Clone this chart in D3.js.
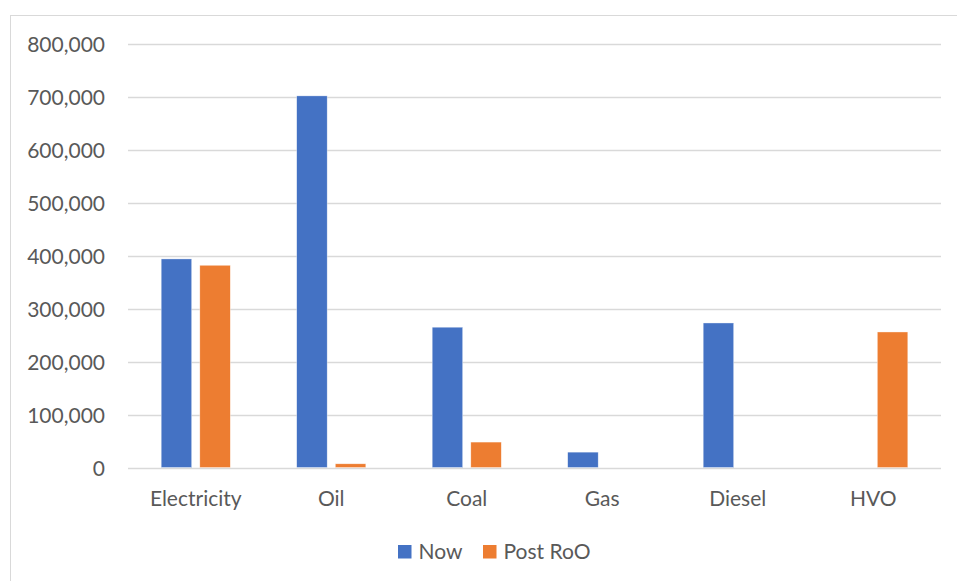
<!DOCTYPE html>
<html>
<head>
<meta charset="utf-8">
<script src="https://cdn.jsdelivr.net/npm/d3@7"></script>
<style>
  html, body { margin: 0; padding: 0; background: #fff; }
  svg { display: block; }
  text { font-family: Lato, "Open Sans", "Liberation Sans", sans-serif; fill: #595959; }
</style>
</head>
<body>
<svg id="chart" width="957" height="581"></svg>
<script>
// Energy use by fuel, now versus after the RoO change
const categories = ["Electricity", "Oil", "Coal", "Gas", "Diesel", "HVO"];
const nowValues = [394000, 702000, 265000, 29000, 273000, 0];
const postRoOValues = [382000, 7000, 48000, 0, 0, 256000];
const seriesNames = ["Now", "Post RoO"];
const seriesColors = ["#4472C4", "#ED7D31"];
const yTicks = [0, 100000, 200000, 300000, 400000, 500000, 600000, 700000, 800000];

const svg = d3.select("#chart");
const W = 957, H = 581;
const fontSize = 21;

// chart frame
svg.append("rect")
  .attr("x", 10.5).attr("y", 15.5)
  .attr("width", W + 10).attr("height", H + 10)
  .attr("fill", "#fff").attr("stroke", "#d9d9d9").attr("stroke-width", 1);

const plot = { left: 128, right: 941, top: 44, bottom: 467.5 };

const x = d3.scaleBand()
  .domain(categories)
  .range([plot.left, plot.right])
  .paddingInner(0).paddingOuter(0);

const bandW = x.bandwidth();
const barW = bandW * 0.225;
const gap = bandW * 0.06;

const y = d3.scaleLinear().domain([0, 800000]).range([plot.bottom, plot.top]);

// gridlines
svg.append("g")
  .selectAll("line")
  .data(yTicks)
  .join("line")
  .attr("x1", plot.left).attr("x2", plot.right)
  .attr("y1", d => Math.round(y(d)) + 0.5)
  .attr("y2", d => Math.round(y(d)) + 0.5)
  .attr("stroke", "#d9d9d9").attr("stroke-width", 1.3);

// y axis labels
const yAxis = d3.axisLeft(y)
  .tickValues(yTicks)
  .tickFormat(d3.format(","))
  .tickSize(0)
  .tickPadding(0);
const gy = svg.append("g")
  .attr("transform", `translate(${105},0)`)
  .call(yAxis);
gy.select(".domain").remove();
gy.selectAll("text")
  .attr("font-size", fontSize)
  .attr("dy", "0.36em")
  .style("font-family", null);

// bars
const series = [nowValues, postRoOValues];
series.forEach((vals, si) => {
  svg.append("g")
    .selectAll("rect")
    .data(categories.map((c, i) => ({ c, v: vals[i] })).filter(d => d.v > 0))
    .join("rect")
    .attr("x", d => x(d.c) + bandW / 2 + (si === 0 ? -gap / 2 - barW : gap / 2))
    .attr("width", barW)
    .attr("y", d => y(d.v))
    .attr("height", d => y(0) - y(d.v))
    .attr("fill", seriesColors[si])
    .attr("stroke", "#fff").attr("stroke-width", 0.6).attr("stroke-opacity", 0.6);
});

// x axis labels
const xAxis = d3.axisBottom(x).tickSize(0).tickPadding(0);
const gx = svg.append("g")
  .attr("transform", `translate(0,${plot.bottom})`)
  .call(xAxis);
gx.select(".domain").remove();
gx.selectAll("text")
  .attr("font-size", fontSize)
  .attr("y", 38)
  .attr("dy", 0)
  .style("font-family", null);

// legend
const legend = svg.append("g").attr("transform", "translate(398,545)");
const legendX = [0, 85];
seriesNames.forEach((name, i) => {
  const g = legend.append("g").attr("transform", `translate(${legendX[i]},0)`);
  g.append("rect").attr("width", 13.5).attr("height", 13.5).attr("fill", seriesColors[i]);
  g.append("text").attr("x", 20.5).attr("y", 14).attr("font-size", fontSize).text(name);
});
</script>
</body>
</html>
